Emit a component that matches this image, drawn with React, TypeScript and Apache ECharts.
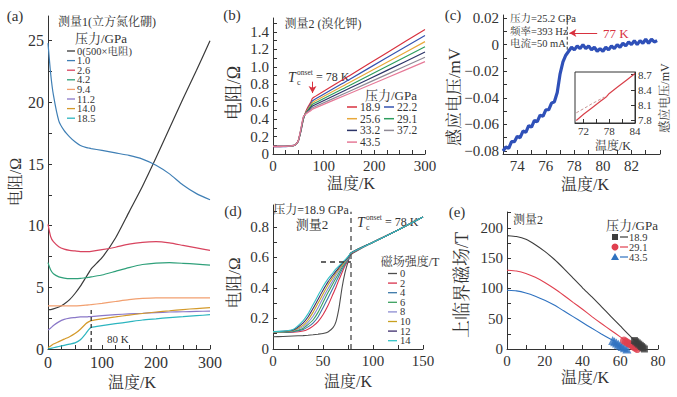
import React, { useEffect, useRef } from "react";
import * as echarts from "echarts";

const FONT = "'Liberation Serif', 'Noto Serif CJK SC', 'Noto Sans CJK SC', serif";
const INK = "#333";

// ---------- (a) 测量1 (立方氮化硼) ----------
const A_X = [0, 5, 10, 20, 30, 40, 50, 60, 70, 75, 80, 100, 125, 150, 175, 200, 225, 250, 275, 300];
const A_NAMES = ["0(500×电阻)", "1.0", "2.6", "4.2", "9.4", "11.2", "14.0", "18.5"];
const A_COLORS = ["#3a3a3a", "#3f7fb5", "#d8445f", "#2fa07a", "#f2a070", "#8a78c8", "#d49a2a", "#2cb5bf"];
const A_P0 = [3.2, 3.2, 3.25, 3.4, 3.65, 4.0, 4.5, 5.1, 5.8, 6.15, 6.5, 7.4, 9.0, 11.1, 13.2, 15.5, 17.9, 20.3, 22.6, 25.0];
const A_P1 = [24.8, 22.3, 20.6, 18.5, 17.7, 17.2, 16.8, 16.5, 16.35, 16.3, 16.25, 16.1, 15.9, 15.7, 15.4, 14.9, 14.2, 13.3, 12.6, 12.1];
const A_P2 = [10.1, 9.1, 8.7, 8.3, 8.1, 8.0, 7.95, 7.9, 7.9, 7.9, 7.92, 8.05, 8.25, 8.5, 8.65, 8.7, 8.6, 8.4, 8.2, 8.0];
const A_P3 = [7.0, 6.4, 6.1, 5.85, 5.75, 5.7, 5.7, 5.72, 5.78, 5.8, 5.85, 6.0, 6.3, 6.6, 6.85, 6.97, 7.0, 6.95, 6.88, 6.8];
const A_P4 = [3.5, 3.5, 3.5, 3.5, 3.5, 3.5, 3.5, 3.52, 3.55, 3.57, 3.6, 3.7, 3.85, 4.0, 4.1, 4.15, 4.15, 4.15, 4.15, 4.15];
const A_P5 = [1.55, 1.7, 1.9, 2.2, 2.4, 2.5, 2.55, 2.6, 2.6, 2.62, 2.63, 2.7, 2.78, 2.85, 2.9, 2.95, 3.0, 3.02, 3.05, 3.07];
const A_P6 = [0.1, 0.25, 0.4, 0.6, 0.8, 1.0, 1.25, 1.6, 2.05, 2.2, 2.3, 2.45, 2.6, 2.75, 2.88, 3.0, 3.1, 3.2, 3.28, 3.35];
const A_P7 = [0.0, 0.05, 0.1, 0.2, 0.3, 0.4, 0.5, 0.75, 1.25, 1.55, 1.75, 1.9, 2.05, 2.2, 2.35, 2.45, 2.55, 2.62, 2.7, 2.78];
const A_SERIES = [A_P0, A_P1, A_P2, A_P3, A_P4, A_P5, A_P6, A_P7];

// ---------- (b) 测量2 (溴化钾) ----------
const B_X = [0, 10, 20, 30, 40, 45, 50, 55, 60, 65, 70, 75, 78, 150, 225, 300];
const B_NAMES = ["18.9", "22.2", "25.6", "29.1", "33.2", "37.2", "43.5"];
const B_COLORS = ["#d8323f", "#3553b0", "#e8a83a", "#2e9e5e", "#2c3468", "#8f8a96", "#e67a98"];
const B_189 = [0.085, 0.085, 0.086, 0.088, 0.095, 0.11, 0.15, 0.26, 0.4, 0.49, 0.55, 0.6, 0.64, 0.896, 1.163, 1.43];
const B_222 = [0.085, 0.085, 0.085, 0.087, 0.094, 0.108, 0.15, 0.26, 0.4, 0.48, 0.53, 0.58, 0.61, 0.853, 1.107, 1.36];
const B_256 = [0.088, 0.088, 0.088, 0.09, 0.097, 0.11, 0.155, 0.27, 0.41, 0.48, 0.52, 0.565, 0.59, 0.817, 1.053, 1.29];
const B_291 = [0.086, 0.086, 0.086, 0.088, 0.095, 0.108, 0.15, 0.27, 0.41, 0.47, 0.51, 0.55, 0.57, 0.784, 1.007, 1.23];
const B_332 = [0.09, 0.09, 0.09, 0.092, 0.098, 0.11, 0.155, 0.28, 0.42, 0.47, 0.5, 0.535, 0.55, 0.751, 0.96, 1.17];
const B_372 = [0.087, 0.087, 0.087, 0.089, 0.096, 0.109, 0.152, 0.28, 0.42, 0.465, 0.49, 0.515, 0.53, 0.718, 0.914, 1.11];
const B_435 = [0.088, 0.088, 0.088, 0.09, 0.097, 0.11, 0.155, 0.29, 0.43, 0.46, 0.48, 0.5, 0.515, 0.692, 0.876, 1.06];
const B_SERIES = [B_189, B_222, B_256, B_291, B_332, B_372, B_435];

// ---------- (c) 感应电压 ----------
const C_X = [73.0, 73.2, 73.4, 73.6, 73.8, 74.0, 74.2, 74.4, 74.6, 74.8, 75.0, 75.2, 75.4, 75.6, 75.8, 76.0, 76.2, 76.4, 76.6, 76.8,
  77.0, 77.2, 77.4, 77.6, 77.8, 78.0, 78.2, 78.4, 78.6, 78.8, 79.0, 79.2, 79.4, 79.6, 79.8, 80.0, 80.2, 80.4, 80.6, 80.8,
  81.0, 81.2, 81.4, 81.6, 81.8, 82.0, 82.2, 82.4, 82.6, 82.8, 83.0, 83.2, 83.4, 83.6, 83.8];
const C_Y = [-0.080, -0.077, -0.078, -0.073, -0.073, -0.069, -0.070, -0.065, -0.066, -0.061, -0.062, -0.057, -0.058, -0.053, -0.054, -0.049, -0.049, -0.044, -0.043, -0.036,
  -0.022, -0.013, -0.008, -0.005, -0.002, -0.004, -0.001, -0.003, 0.000, -0.003, -0.001, -0.004, -0.002, -0.005, -0.003, -0.005, -0.002, -0.004, -0.001, -0.003,
  0.000, -0.002, 0.001, -0.001, 0.002, 0.000, 0.003, 0.000, 0.003, 0.001, 0.004, 0.001, 0.004, 0.002, 0.003];
const CI_X = [70.3, 72, 74, 76, 76.8, 77.4, 78, 80, 82, 84];
const CI_Y = [7.8, 7.92, 8.05, 8.18, 8.23, 8.27, 8.33, 8.46, 8.59, 8.72];
const CI_DX = [70.3, 72, 74, 76, 76.8];
const CI_DY = [7.95, 8.03, 8.13, 8.22, 8.26];

// ---------- (d) 压力=18.9 GPa ----------
const D_X = [0, 10, 20, 30, 35, 40, 45, 50, 55, 60, 63, 66, 69, 72, 75, 78, 100, 125, 150];
const D_NAMES = ["0", "2", "4", "6", "8", "10", "12", "14"];
const D_COLORS = ["#4d4d4d", "#d8324c", "#3a78a8", "#3aa05e", "#8c8cd2", "#c8a020", "#3c2c6c", "#32c2c6"];
const D_0 = [0.08, 0.082, 0.085, 0.088, 0.09, 0.093, 0.097, 0.102, 0.112, 0.14, 0.18, 0.27, 0.4, 0.5, 0.57, 0.62, 0.7, 0.78, 0.865];
const D_2 = [0.108, 0.108, 0.11, 0.118, 0.13, 0.15, 0.18, 0.225, 0.285, 0.36, 0.405, 0.455, 0.5, 0.545, 0.58, 0.625, 0.7, 0.78, 0.865];
const D_4 = [0.11, 0.11, 0.114, 0.127, 0.145, 0.17, 0.21, 0.27, 0.335, 0.4, 0.44, 0.48, 0.52, 0.555, 0.585, 0.63, 0.7, 0.78, 0.865];
const D_6 = [0.11, 0.111, 0.117, 0.135, 0.16, 0.19, 0.24, 0.305, 0.37, 0.43, 0.465, 0.5, 0.535, 0.565, 0.59, 0.63, 0.7, 0.78, 0.865];
const D_8 = [0.112, 0.113, 0.12, 0.145, 0.175, 0.215, 0.27, 0.335, 0.395, 0.45, 0.485, 0.515, 0.545, 0.57, 0.595, 0.63, 0.7, 0.78, 0.865];
const D_10 = [0.113, 0.114, 0.122, 0.155, 0.19, 0.24, 0.3, 0.36, 0.42, 0.47, 0.5, 0.525, 0.55, 0.575, 0.6, 0.63, 0.7, 0.78, 0.865];
const D_12 = [0.115, 0.116, 0.125, 0.17, 0.21, 0.265, 0.325, 0.385, 0.44, 0.485, 0.51, 0.535, 0.56, 0.58, 0.6, 0.63, 0.7, 0.78, 0.865];
const D_14 = [0.115, 0.117, 0.128, 0.185, 0.23, 0.29, 0.35, 0.41, 0.46, 0.5, 0.525, 0.545, 0.565, 0.585, 0.605, 0.63, 0.7, 0.78, 0.865];
const D_SERIES = [D_0, D_2, D_4, D_6, D_8, D_10, D_12, D_14];

// ---------- (e) 上临界磁场 ----------
const E_NAMES = ["18.9", "29.1", "43.5"];
const E_COLORS = ["#3d3d3d", "#e0404f", "#2f72c0"];
const E_X1 = [0, 5, 10, 15, 20, 25, 30, 35, 40, 45, 50, 55, 60, 65, 68];
const E_189 = [187, 185.5, 181, 172, 161, 148, 133, 117, 101, 86, 70, 54, 38, 22, 13];
const E_X2 = [0, 5, 10, 15, 20, 25, 30, 35, 40, 45, 50, 55, 60, 63];
const E_291 = [130, 128.6, 124.7, 118.3, 109.8, 99.8, 88.7, 77, 65.5, 53.5, 42, 31, 20, 13];
const E_X3 = [0, 5, 10, 15, 20, 25, 30, 35, 40, 45, 50, 55, 57];
const E_435 = [97, 95.9, 92.5, 87.2, 80.5, 72.5, 63, 53.4, 43.7, 34.1, 24.9, 16.1, 13];
const E_H = [14, 12, 10, 8, 6, 4, 2, 0];
const E_T189 = [67.5, 68.2, 69, 69.8, 70.6, 71.3, 72, 72.8];
const E_T291 = [62, 63, 64, 65, 66, 67, 68, 69];
const E_T435 = [56, 57, 58, 59, 60, 61, 62.2, 63.5];

function zip(xs: number[], ys: number[]) {
  return xs.map((x, i) => [x, ys[i]]);
}
function range(a: number, b: number, s: number) {
  const r: number[] = [];
  for (let v = a; v <= b + 1e-9; v += s) r.push(+v.toFixed(4));
  return r;
}

function axis(
  gridIndex: number, min: number, max: number, labels: number[], ticks: number[],
  position: string, fontSize = 15, fmt?: (v: number) => string, margin = 4
) {
  return {
    type: "value", gridIndex, min, max, position,
    axisLine: { show: true, onZero: false, lineStyle: { color: INK, width: 1 } },
    axisTick: { show: true, inside: true, length: 4, customValues: ticks, lineStyle: { color: INK, width: 1 } },
    axisLabel: { customValues: labels, fontFamily: FONT, fontSize, color: INK, margin, formatter: fmt },
    splitLine: { show: false },
  };
}

function line(xi: number, yi: number, data: number[][], color: string, width = 1.2, extra: any = {}) {
  return {
    type: "line", xAxisIndex: xi, yAxisIndex: yi, data, showSymbol: false, symbol: "none",
    smooth: 0.2, lineStyle: { color, width }, itemStyle: { color }, silent: true, ...extra,
  };
}

function txt(x: number, y: number, text: string, fontSize = 13, extra: any = {}, styleExtra: any = {}) {
  return {
    type: "text", x, y, ...extra,
    style: { text, fontSize, fontFamily: FONT, fill: INK, align: "left", verticalAlign: "middle", ...styleExtra },
  };
}
function ctxt(x: number, y: number, text: string, fontSize = 13, styleExtra: any = {}) {
  return txt(x, y, text, fontSize, {}, { align: "center", ...styleExtra });
}
function rtxt(x: number, y: number, text: string, fontSize = 16) {
  return txt(x, y, text, fontSize, { rotation: Math.PI / 2 }, { align: "center" });
}
function seg(x1: number, y1: number, x2: number, y2: number, stroke: string, lineWidth = 1.5) {
  return { type: "line", shape: { x1, y1, x2, y2 }, style: { stroke, lineWidth } };
}

function buildOption() {
  const f1 = (v: number) => (v === 0 ? "0" : v.toFixed(1));
  const f2 = (v: number) => (v === 0 ? "0" : (v < 0 ? "−" : "") + Math.abs(v).toFixed(2));

  const grid = [
    { left: 48, top: 16, width: 162, height: 333 },
    { left: 273, top: 18, width: 152, height: 136 },
    { left: 503, top: 15, width: 157, height: 139 },
    { left: 575, top: 72, width: 60, height: 51, show: true, borderColor: INK, borderWidth: 1, backgroundColor: "#fff", z: 5 },
    { left: 273, top: 205, width: 150, height: 144 },
    { left: 507, top: 212, width: 151, height: 137 },
  ];

  const xAxis = [
    axis(0, 0, 300, [0, 100, 200, 300], range(0, 300, 25), "bottom", 16, undefined, 5),
    axis(1, 0, 300, [0, 100, 200, 300], range(0, 300, 25), "bottom", 15, undefined, 4),
    axis(2, 73, 84, [74, 76, 78, 80, 82], range(73, 84, 1), "bottom", 15, undefined, 4),
    { ...axis(3, 70, 84, [72, 78, 84], [72, 75, 78, 81, 84], "bottom", 11, undefined, 2), z: 6 },
    axis(4, 0, 150, [0, 50, 100, 150], range(0, 150, 25), "bottom", 15, undefined, 4),
    axis(5, 0, 80, range(0, 80, 20), range(0, 80, 10), "bottom", 15, undefined, 4),
  ];
  const yAxis = [
    axis(0, 0, 27, range(0, 25, 5), range(0, 25, 2.5), "left", 16),
    axis(1, 0, 1.561, range(0, 1.4, 0.2), range(0, 1.5, 0.1), "left", 15, f1),
    axis(2, -0.08226, 0.02226, [-0.08, -0.06, -0.04, -0.02, 0, 0.02], range(-0.08, 0.02, 0.01), "left", 15, f2),
    { ...axis(3, 7.75, 8.75, [7.8, 8.1, 8.4, 8.7], [7.8, 8.1, 8.4, 8.7], "right", 11, f1, 3), z: 6 },
    axis(4, 0, 0.944, range(0, 0.8, 0.2), range(0, 0.9, 0.1), "left", 15, f1),
    axis(5, 0, 226, range(0, 200, 50), range(0, 225, 25), "left", 15),
  ];

  const series: any[] = [];
  // (a)
  A_SERIES.forEach((ys, i) => series.push(line(0, 0, zip(A_X, ys), A_COLORS[i])));
  series.push(line(0, 0, [[80, 0], [80, 3.2]], "#333", 1.3, { smooth: false, lineStyle: { color: "#333", width: 1.3, type: [4, 3] } }));
  // (b)
  B_SERIES.forEach((ys, i) => {
    const extra: any = {};
    if (i === 0) {
      extra.markLine = {
        silent: true, symbol: ["none", "arrow"], symbolSize: [6, 7],
        lineStyle: { color: "#d8323f", width: 1, type: "solid" }, label: { show: false },
        data: [[{ coord: [78, 0.83] }, { coord: [78, 0.7] }]],
      };
    }
    series.push(line(1, 1, zip(B_X, ys), B_COLORS[i], 1.2, { smooth: 0.15, ...extra }));
  });
  // (c)
  series.push(line(2, 2, zip(C_X, C_Y), "#2f50b8", 3.2, {
    smooth: false,
    markLine: {
      silent: true, symbol: ["none", "arrow"], symbolSize: [6, 7],
      lineStyle: { color: "#d8323f", width: 1, type: "solid" }, label: { show: false },
      data: [[{ coord: [79.6, 0.0087] }, { coord: [77.65, 0.0087] }]],
    },
  }));
  series.push(line(2, 2, [[77.5, 0.021], [77.5, -0.004]], "#333", 1, { smooth: false, lineStyle: { color: "#333", width: 1, type: [3, 2] } }));
  series.push(line(3, 3, zip(CI_DX, CI_DY), "#c89494", 1, { smooth: false, z: 7, lineStyle: { color: "#c89494", width: 1, type: [3, 2] } }));
  series.push(line(3, 3, zip(CI_X, CI_Y), "#d8404a", 1.2, { smooth: false, z: 7 }));
  // (d)
  D_SERIES.forEach((ys, i) => series.push(line(4, 4, zip(D_X, ys), D_COLORS[i], 1.1)));
  series.push(line(4, 4, [[78, 0], [78, 0.9]], "#555", 1.4, { smooth: false, lineStyle: { color: "#555", width: 1.4, type: [5, 4] } }));
  series.push(line(4, 4, [[48, 0.57], [78, 0.57]], "#333", 1.4, { smooth: false, lineStyle: { color: "#333", width: 1.4, type: [5, 4] } }));
  // (e)
  series.push(line(5, 5, zip(E_X1, E_189), E_COLORS[0], 1.1));
  series.push(line(5, 5, zip(E_X2, E_291), E_COLORS[1], 1.1));
  series.push(line(5, 5, zip(E_X3, E_435), E_COLORS[2], 1.1));
  const scat = (xs: number[], c: string, symbol: string, size: number) => ({
    type: "scatter", xAxisIndex: 5, yAxisIndex: 5, data: zip(xs, E_H), symbol, symbolSize: size,
    itemStyle: { color: c }, clip: false, silent: true, z: 4,
  });
  series.push(scat(E_T435, E_COLORS[2], "triangle", 9));
  series.push(scat(E_T291, E_COLORS[1], "circle", 8));
  series.push(scat(E_T189, E_COLORS[0], "rect", 7));

  const g: any[] = [];
  // panel letters
  g.push(ctxt(15, 16, "(a)", 15), ctxt(232, 15, "(b)", 15), ctxt(453, 15, "(c)", 15), ctxt(233, 211, "(d)", 15), ctxt(457, 212, "(e)", 15));
  // (a)
  g.push(txt(58, 22, "测量1(立方氮化硼)", 12));
  g.push(ctxt(101, 38, "压力/GPa", 13));
  A_NAMES.forEach((n, i) => {
    const y = 51 + i * 9.6;
    g.push(seg(67, y, 75, y, A_COLORS[i], 1.3));
    g.push(txt(77, y, n, 10.5));
  });
  g.push(txt(107, 339, "80 K", 11));
  g.push(ctxt(132, 382, "温度/K", 16));
  g.push(rtxt(15, 182, "电阻/Ω", 16));
  // (b)
  g.push(ctxt(323, 24, "测量2 (溴化钾)", 12));
  g.push(txt(288, 77, "T", 14, {}, { fontStyle: "italic" }));
  g.push(txt(297, 72, "onset", 7.5));
  g.push(txt(297, 82, "c", 8));
  g.push(txt(316, 77, "= 78 K", 12));
  g.push(ctxt(391, 95, "压力/GPa", 13));
  B_NAMES.forEach((n, i) => {
    const col = i % 2;
    const row = Math.floor(i / 2);
    const y = 107 + row * 11.7;
    const x0 = col === 0 ? 347 : 384;
    g.push(seg(x0, y, x0 + 10, y, B_COLORS[i], 1.5));
    g.push(txt(x0 + 13, y, n, 11.5));
  });
  g.push(ctxt(351, 183, "温度/K", 16));
  g.push(rtxt(234, 93, "电阻/Ω", 18));
  // (c)
  g.push(txt(510, 18, "压力=25.2 GPa", 10.5));
  g.push(txt(510, 31, "频率=393 Hz", 10.5));
  g.push(txt(510, 43, "电流=50 mA", 10.5));
  g.push(txt(603, 33, "77 K", 13, {}, { fill: "#d8323f" }));
  g.push(rtxt(454, 97, "感应电压/mV", 17));
  g.push(ctxt(585, 184, "温度/K", 16));
  g.push(rtxt(665, 98, "感应电压/mV", 12));
  g.push(ctxt(613, 146, "温度/K", 12));
  // (d)
  g.push(ctxt(311, 210, "压力=18.9 GPa", 12));
  g.push(ctxt(312, 224, "测量2", 13));
  g.push(txt(357, 222, "T", 14, {}, { fontStyle: "italic" }));
  g.push(txt(366, 217, "onset", 7.5));
  g.push(txt(366, 227, "c", 8));
  g.push(txt(385, 222, "= 78 K", 12));
  g.push(ctxt(410, 262, "磁场强度/T", 12));
  D_NAMES.forEach((n, i) => {
    const y = 273.5 + i * 9.6;
    g.push(seg(388, y, 397, y, D_COLORS[i], 1.3));
    g.push(txt(400, y, n, 10.5));
  });
  g.push(ctxt(348, 381, "温度/K", 16));
  g.push(rtxt(234, 283, "电阻/Ω", 17));
  // (e)
  g.push(ctxt(528, 220, "测量2", 12));
  g.push(ctxt(632, 225, "压力/GPa", 13));
  E_NAMES.forEach((n, i) => {
    const y = 237 + i * 10;
    if (i === 0) g.push({ type: "rect", shape: { x: 612, y: y - 3, width: 6, height: 6 }, style: { fill: E_COLORS[i] } });
    if (i === 1) g.push({ type: "circle", shape: { cx: 615, cy: y, r: 3.5 }, style: { fill: E_COLORS[i] } });
    if (i === 2) g.push({ type: "polygon", shape: { points: [[615, y - 4], [619, y + 3], [611, y + 3]] }, style: { fill: E_COLORS[i] } });
    g.push(seg(620, y, 628, y, E_COLORS[i], 1.2));
    g.push(txt(629, y, n, 10.5));
  });
  g.push(ctxt(585, 377, "温度/K", 16));
  g.push(rtxt(462, 285, "上临界磁场/T", 18));

  return {
    animation: false,
    backgroundColor: "#fff",
    textStyle: { fontFamily: FONT },
    grid, xAxis, yAxis, series,
    graphic: { elements: g },
  };
}

export default function App() {
  const ref = useRef<HTMLDivElement>(null);
  useEffect(() => {
    const chart = echarts.init(ref.current!, undefined, { renderer: "svg" });
    chart.setOption(buildOption() as any);
    return () => chart.dispose();
  }, []);
  return (
    <div
      ref={ref}
      style={{ position: "absolute", left: 0, top: 0, width: 677, height: 397, background: "#fff" }}
    />
  );
}
